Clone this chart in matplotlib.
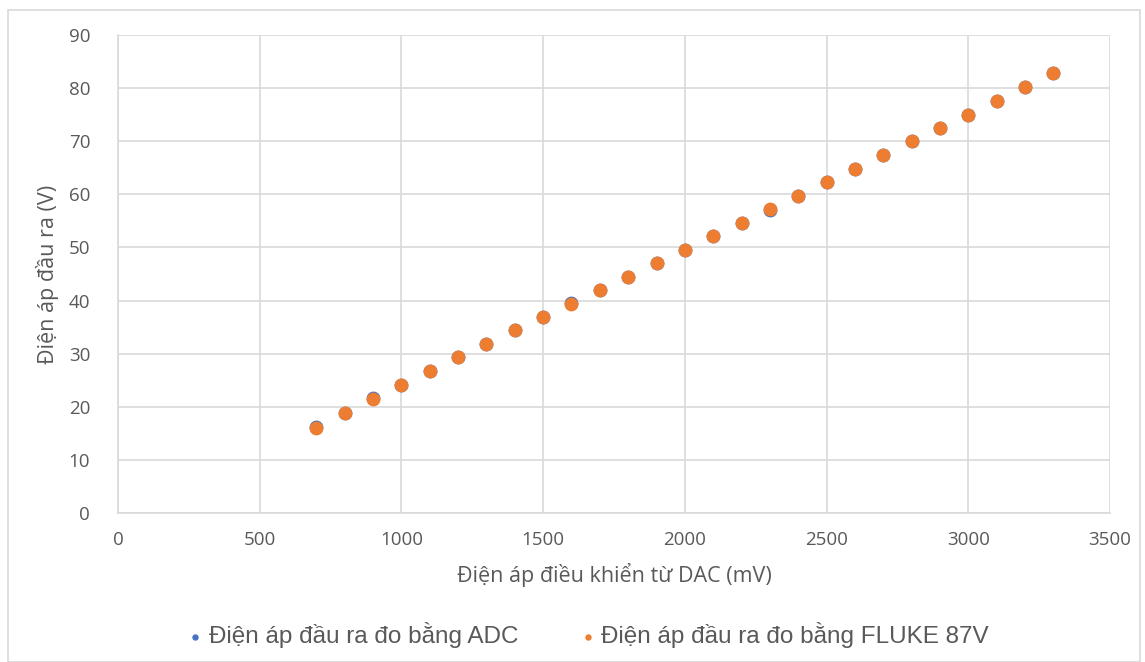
import matplotlib.pyplot as plt
import matplotlib.patches as patches
import numpy as np

dac_mv = [700, 800, 900, 1000, 1100, 1200, 1300, 1400, 1500, 1600, 1700, 1800, 1900, 2000,
          2100, 2200, 2300, 2400, 2500, 2600, 2700, 2800, 2900, 3000, 3100, 3200, 3300]
fluke_v = [16.0, 18.8, 21.5, 24.1, 26.7, 29.3, 31.8, 34.4, 36.9, 39.4, 41.9, 44.5, 47.0, 49.6,
           52.1, 54.6, 57.2, 59.7, 62.3, 64.8, 67.4, 70.0, 72.5, 75.0, 77.6, 80.2, 82.8]
adc_v = [16.1, 18.8, 21.6, 24.1, 26.7, 29.3, 31.8, 34.4, 36.9, 39.5, 41.9, 44.5, 47.0, 49.6,
         52.1, 54.6, 57.1, 59.7, 62.3, 64.8, 67.4, 70.0, 72.5, 75.0, 77.5, 80.2, 82.8]

tick_font = 'Open Sans'
grey = '#595959'

fig = plt.figure(figsize=(11.45, 6.62), dpi=100)
ax = fig.add_axes([118/1145, 1 - 513/662, (1110 - 118)/1145, (513 - 35)/662])

ax.scatter(dac_mv, adc_v, s=80, color='#4472C4', label='Điện áp đầu ra đo bằng ADC', zorder=3)
ax.scatter(dac_mv, fluke_v, s=80, color='#ED7D31', label='Điện áp đầu ra đo bằng FLUKE 87V', zorder=4)

ax.set_xlim(0, 3500)
ax.set_ylim(0, 90)
ax.set_xticks(np.arange(0, 3501, 500))
ax.set_yticks(np.arange(0, 91, 10))
ax.grid(True, color='#d9d9d9', linewidth=1.2)
ax.set_axisbelow(True)
for side in ['top', 'right']:
    ax.spines[side].set_visible(False)
for side in ['left', 'bottom']:
    ax.spines[side].set_color('#d9d9d9')
    ax.spines[side].set_linewidth(1.2)
ax.tick_params(length=0, labelsize=13.5, labelcolor=grey)
ax.tick_params(axis='y', pad=20)
ax.tick_params(axis='x', pad=13)
for lab in ax.get_xticklabels() + ax.get_yticklabels():
    lab.set_family(tick_font)

ax.set_xlabel('Điện áp điều khiển từ DAC (mV)', fontsize=15.5, color=grey, family=tick_font, labelpad=10)
ax.set_ylabel('Điện áp đầu ra (V)', fontsize=15.5, color=grey, family=tick_font, labelpad=7)

fig.legend(loc='center', bbox_to_anchor=(589/1145, 1 - 635/662), ncol=2, frameon=False,
           prop={'family': 'Liberation Sans', 'size': 17.5}, labelcolor=grey,
           handlelength=0.5, handletextpad=0.3, columnspacing=2.6, markerscale=0.4)

fig.patches.append(patches.Rectangle((8/1145, 0), 1132/1145, 1 - 10/662, transform=fig.transFigure,
                                     fill=False, edgecolor='#d9d9d9', linewidth=1.2))

fig.savefig('out.png', dpi=100)
